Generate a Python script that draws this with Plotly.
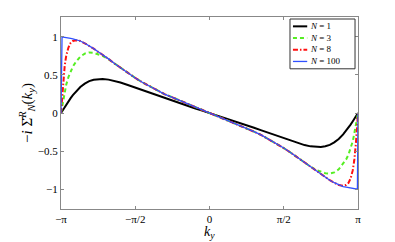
import plotly.graph_objects as go

# k_y in units of pi
k_over_pi = [-1, -0.996, -0.993, -0.985, -0.975, -0.965, -0.95, -0.935, -0.92, -0.9,
             -0.87, -0.84, -0.81, -0.78, -0.75, -0.72, -0.68, -0.64, -0.6, -0.55,
             -0.5, -0.45, -0.4, -0.35, -0.3, -0.25, -0.2, -0.15, -0.1, -0.05,
             0,
             0.05, 0.1, 0.15, 0.2, 0.25, 0.3, 0.35, 0.4, 0.45, 0.5,
             0.55, 0.6, 0.64, 0.68, 0.72, 0.75, 0.78, 0.81, 0.84, 0.87,
             0.9, 0.92, 0.935, 0.95, 0.965, 0.975, 0.985, 0.993, 0.996, 1]

sigma_N1 = [0, 0.013, 0.022, 0.047, 0.078, 0.108, 0.153, 0.195, 0.234, 0.281,
            0.341, 0.386, 0.418, 0.437, 0.446, 0.447, 0.438, 0.421, 0.40, 0.368,
            0.333, 0.298, 0.263, 0.228, 0.194, 0.16, 0.127, 0.095, 0.063, 0.031,
            0,
            -0.031, -0.063, -0.095, -0.127, -0.16, -0.194, -0.228, -0.263, -0.298, -0.333,
            -0.368, -0.40, -0.421, -0.438, -0.447, -0.446, -0.437, -0.418, -0.386, -0.341,
            -0.281, -0.234, -0.195, -0.153, -0.108, -0.078, -0.047, -0.022, -0.013, 0]

sigma_N3 = [0, 0.04, 0.08, 0.16, 0.27, 0.37, 0.47, 0.55, 0.61, 0.67,
            0.74, 0.78, 0.795, 0.79, 0.775, 0.75, 0.705, 0.65, 0.595, 0.525,
            0.46, 0.40, 0.345, 0.29, 0.245, 0.205, 0.165, 0.123, 0.082, 0.041,
            0,
            -0.041, -0.082, -0.123, -0.165, -0.205, -0.245, -0.29, -0.345, -0.40, -0.46,
            -0.525, -0.595, -0.65, -0.705, -0.75, -0.775, -0.79, -0.795, -0.78, -0.74,
            -0.67, -0.61, -0.55, -0.47, -0.37, -0.27, -0.16, -0.08, -0.04, 0]

sigma_N8 = [0, 0.1, 0.2, 0.42, 0.62, 0.75, 0.86, 0.92, 0.945, 0.955,
            0.945, 0.915, 0.882, 0.845, 0.803, 0.765, 0.71, 0.65, 0.595, 0.525,
            0.46, 0.40, 0.345, 0.29, 0.245, 0.205, 0.165, 0.123, 0.082, 0.041,
            0,
            -0.041, -0.082, -0.123, -0.165, -0.205, -0.245, -0.29, -0.345, -0.40, -0.46,
            -0.525, -0.595, -0.65, -0.71, -0.765, -0.803, -0.845, -0.882, -0.915, -0.945,
            -0.955, -0.945, -0.92, -0.86, -0.75, -0.62, -0.42, -0.2, -0.1, 0]

sigma_N100 = [0, 1.0, 1.0, 0.997, 0.995, 0.99, 0.985, 0.98, 0.973, 0.965,
              0.945, 0.915, 0.882, 0.845, 0.803, 0.765, 0.71, 0.65, 0.595, 0.525,
              0.46, 0.40, 0.345, 0.29, 0.245, 0.205, 0.165, 0.123, 0.082, 0.041,
              0,
              -0.041, -0.082, -0.123, -0.165, -0.205, -0.245, -0.29, -0.345, -0.40, -0.46,
              -0.525, -0.595, -0.65, -0.71, -0.765, -0.803, -0.845, -0.882, -0.915, -0.945,
              -0.965, -0.973, -0.98, -0.985, -0.99, -0.995, -0.997, -1.0, -1.0, 0]

x_tick_vals = [-1, -0.5, 0, 0.5, 1]
x_tick_text = ["\u2212\u03c0", "\u2212\u03c0/2", "0", "\u03c0/2", "\u03c0"]
y_tick_vals = [-1, -0.5, 0, 0.5, 1]
y_tick_text = ["\u22121", "\u22120.5", "0", "0.5", "1"]

legend_labels = ["<i>N</i> = 1", "<i>N</i> = 3", "<i>N</i> = 8", "<i>N</i> = 100"]

series = [
    (legend_labels[0], sigma_N1, "#000000", "solid", 2.0),
    (legend_labels[1], sigma_N3, "#55ee22", "4px,3px", 2.0),
    (legend_labels[2], sigma_N8, "#ff1010", "5px,2px,1.5px,2px", 2.0),
    (legend_labels[3], sigma_N100, "#3050ff", "solid", 1.3),
]

SERIF = "Liberation Serif"

fig = go.Figure()
for name, vals, color, dash, w in series:
    fig.add_trace(go.Scatter(x=k_over_pi, y=vals, mode="lines", name=name,
                             showlegend=False,
                             line=dict(color=color, dash=dash, width=w)))

axis_common = dict(showgrid=False, zeroline=False, showline=True, linecolor="#888888",
                   linewidth=1, mirror="ticks", ticks="inside", ticklen=3,
                   tickcolor="#888888", tickfont=dict(family=SERIF, size=11, color="#000"))

fig.update_xaxes(range=[-1, 1], tickvals=x_tick_vals, ticktext=x_tick_text, **axis_common)
fig.update_yaxes(range=[-1.26, 1.26], tickvals=y_tick_vals, ticktext=y_tick_text,
                 title=dict(text="\u2212<i>i</i> \u03a3\u0302<sup><i>R</i></sup><sub><i>N</i></sub>(<i>k<sub>y</sub></i>)",
                            font=dict(family=SERIF, size=15, color="#000"), standoff=1),
                 **axis_common)

PLOT_TOP, PLOT_H = 17.0, 192.0


def py(px):
    return 1.0 - (px - PLOT_TOP) / PLOT_H


# x-axis title as annotation
annotations = [dict(xref="paper", yref="paper", x=0.5, y=py(242), xanchor="center",
                    yanchor="bottom", showarrow=False, text="<i>k<sub>y</sub></i>",
                    borderpad=0, font=dict(family=SERIF, size=14, color="#000"))]

# compact legend box (MATLAB style)
FS = 9
line_gap = FS * 1.3
box_top_px = 19.0
box_bot_px = box_top_px + 4 * line_gap + 3
box_x0, box_x1 = 0.771, 0.99
shapes = [dict(type="rect", xref="paper", yref="paper", x0=box_x0, x1=box_x1,
               y0=py(box_bot_px), y1=py(box_top_px), line=dict(color="#333333", width=1),
               fillcolor="white", layer="above")]
for i, (name, vals, color, dash, w) in enumerate(series):
    yc = box_top_px + 1.5 + line_gap * (i + 0.5)
    shapes.append(dict(type="line", xref="paper", yref="paper",
                       x0=box_x0 + 0.01, x1=box_x0 + 0.058, y0=py(yc), y1=py(yc),
                       line=dict(color=color, dash=dash, width=w), layer="above"))
annotations.append(dict(xref="paper", yref="paper", x=box_x0 + 0.064, y=py(box_top_px + 1.5),
                        xanchor="left", yanchor="top", showarrow=False, align="left",
                        borderpad=0, text="<br>".join(legend_labels),
                        font=dict(family=SERIF, size=FS, color="#000")))

fig.update_layout(
    width=395, height=242,
    margin=dict(l=61, r=37, t=17, b=33),
    paper_bgcolor="white", plot_bgcolor="white",
    font=dict(family=SERIF, color="#000"),
    shapes=shapes, annotations=annotations,
    showlegend=False,
)

fig.write_html("out.html", config={"displayModeBar": False},
               post_script="document.body.style.margin='0';document.body.style.padding='0';")
